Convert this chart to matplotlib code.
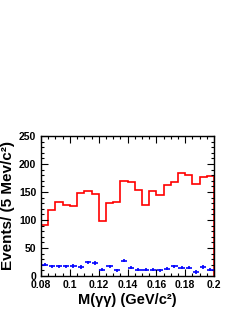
import numpy as np
import matplotlib
matplotlib.use('Agg')
from matplotlib import pyplot as plt
from matplotlib.ticker import MultipleLocator

# Histogram data: M(gamma gamma), 5 MeV bins from 0.08 to 0.2

edges = np.linspace(0.08, 0.2, 25)
signal = [91, 117, 132, 127, 125, 148, 151, 147, 99, 131, 133, 170,
          168, 153, 126, 152, 144, 163, 168, 184, 181, 165, 176, 178]
sideband = [20, 17, 17, 17, 18, 16, 24, 23, 11, 17, 10, 27,
            15, 11, 11, 11, 10, 13, 17, 15, 15, 7, 16, 11]
sideband_err = [3] * 24
xticks = [0.08, 0.1, 0.12, 0.14, 0.16, 0.18, 0.2]
xticklabels = ['0.08', '0.1', '0.12', '0.14', '0.16', '0.18', '0.2']

plt.rcParams['font.family'] = ['Liberation Sans', 'DejaVu Sans']
plt.rcParams['font.weight'] = 'bold'

fig = plt.figure(figsize=(2.4, 3.1), dpi=100)
ax = fig.add_axes([0.171, 0.110, 0.721, 0.451])

ax.stairs(signal, edges, baseline=0, color='#ff0000', linewidth=1.2)

centers = 0.5 * (edges[:-1] + edges[1:])
ax.errorbar(centers, sideband, xerr=0.0022, yerr=sideband_err, fmt='none',
            ecolor='#0000ff', elinewidth=1.2)

ax.set_xlim(0.08, 0.2)
ax.set_ylim(0, 250)
ax.set_xticks(xticks)
ax.set_xticklabels(xticklabels)
ax.xaxis.set_minor_locator(MultipleLocator(0.005))
ax.yaxis.set_major_locator(MultipleLocator(50))
ax.yaxis.set_minor_locator(MultipleLocator(10))

ax.tick_params(which='both', direction='in', top=True, right=True, labelsize=7.5, width=0.8)
ax.tick_params(which='major', length=5)
ax.tick_params(which='minor', length=2.5)
ax.tick_params(axis='x', pad=3)
for s in ax.spines.values():
    s.set_linewidth(1.0)
    s.set_zorder(5)

ax.set_xlabel('M(γγ) (GeV/c²)', fontsize=10.5, fontweight='bold')
ax.set_ylabel('Events/ (5 Mev/c²)', fontsize=11, fontweight='bold')
ax.xaxis.set_label_coords(0.5, -0.125)
ax.yaxis.set_label_coords(-0.15, 0.5)

plt.savefig('out.png', dpi=100)
